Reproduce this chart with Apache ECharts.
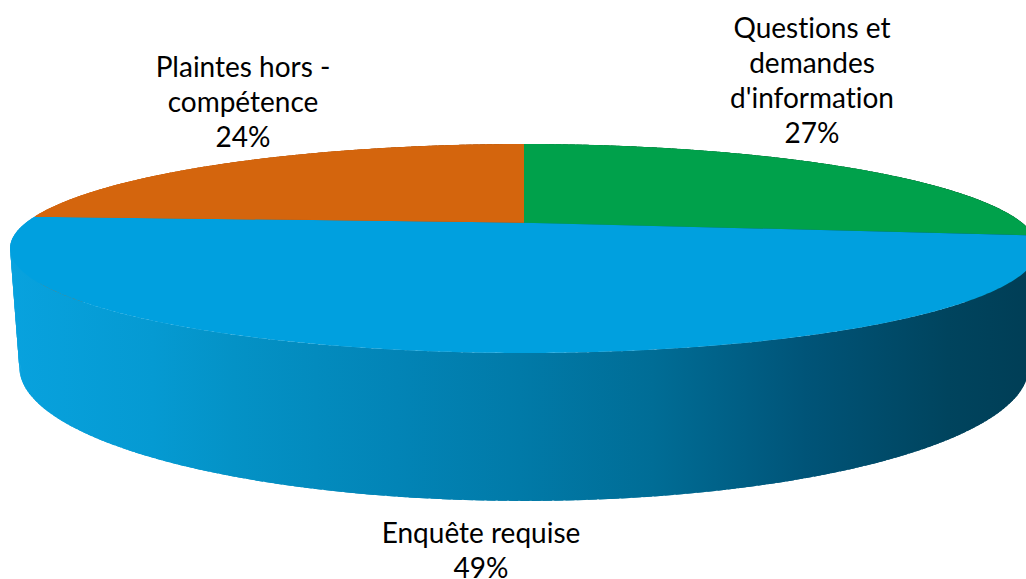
<!DOCTYPE html>
<html><head><meta charset="utf-8">
<script src="https://cdn.jsdelivr.net/npm/echarts@6/dist/echarts.min.js"></script>
<style>html,body{margin:0;padding:0;background:#fff;overflow:hidden}#c{width:1026px;height:579px}
#c text{font-variant-ligatures:none;font-feature-settings:"liga" 0,"clig" 0}</style>
</head><body><div id="c"></div>
<script>
// ---- data ----
const categories = ["Questions et\ndemandes\nd'information", "Enquête requise", "Plaintes hors -\ncompétence"];
const values = [27, 49, 24];
const topColors = ['#00A14B', '#00A0DF', '#D4650D'];

// ---- layout (3D perspective pie) ----
const CX = 524, CY = 222.7;   // pie centre on screen
const RA = 498, RB = 98.1;    // horizontal / vertical radii
const K = 0.247;              // perspective strength
const DEPTH = 111.4;          // thickness
const SHRINK = 0.982;         // bottom rim narrower (perspective)
const START = 90;             // start at top, clockwise
const labelLayout = [
  {x: 812, y: 149, va: 'bottom'},
  {x: 481, y: 514, va: 'top'},
  {x: 243, y: 153, va: 'bottom'}
];

function grad(stops) {
  return {type: 'linear', x: 10, y: 0, x2: 1030, y2: 0, global: true,
    colorStops: stops.map(s => ({offset: s[0], color: s[1]}))};
}
const sideFills = [
  grad([[0, '#00A14B'], [0.5, '#007A38'], [1, '#004A24']]),
  grad([[0, '#08A2DE'], [0.14, '#059AD2'], [0.22, '#0492C6'], [0.38, '#0284B6'], [0.5, '#017AA8'], [0.63, '#006D96'], [0.78, '#005478'], [0.92, '#00445E'], [1, '#003E56']]),
  grad([[0, '#D4650D'], [0.5, '#A24D0A'], [1, '#6E3406']])
];

function proj(deg, bottom) {
  const t = deg * Math.PI / 180;
  const X = Math.cos(t), Y = Math.sin(t);
  const w = 1 + K * Y;
  let sx = CX + RA * X / w;
  let sy = CY - RB * Y / w;
  if (bottom) { sx = CX + (sx - CX) * SHRINK; sy += DEPTH / w; }
  return [sx, sy];
}

const total = values.reduce((a, b) => a + b, 0);

function renderItem(params, api) {
  const i = params.dataIndex;
  const v = api.value(0);
  let cum = 0;
  for (let j = 0; j < i; j++) cum += values[j];
  const a1 = START - 360 * cum / total;
  const a2 = START - 360 * (cum + v) / total;
  const children = [];
  // side wall, built from small quads sorted by depth
  const step = 1;
  const n = Math.max(1, Math.ceil((a1 - a2) / step));
  const d = (a1 - a2) / n;
  for (let s = 0; s < n; s++) {
    const ta = a1 - s * d + (s > 0 ? 0.4 : 0);
    const tb = a1 - (s + 1) * d - (s < n - 1 ? 0.4 : 0);
    const mid = (ta + tb) / 2;
    const pts = [proj(ta, false), proj(tb, false), proj(tb, true), proj(ta, true)];
    children.push({
      type: 'polygon', shape: {points: pts},
      style: {fill: sideFills[i]},
      z2: Math.round(200 * (1 - Math.sin(mid * Math.PI / 180)))
    });
  }
  // top face
  const top = [[CX, CY]];
  const m = Math.max(2, Math.ceil((a1 - a2) / 0.5));
  for (let s = 0; s <= m; s++) top.push(proj(a1 - (a1 - a2) * s / m, false));
  children.push({type: 'polygon', shape: {points: top}, style: {fill: topColors[i]}, z2: 1000});
  // label
  const pct = Math.round(v / total * 100) + '%';
  const L = labelLayout[i];
  children.push({
    type: 'text', z2: 2000, x: L.x, y: L.y,
    style: {
      text: categories[i] + '\n' + pct,
      fill: '#000000', fontFamily: 'Lato', fontSize: 28, lineHeight: 35,
      align: 'center', verticalAlign: L.va
    }
  });
  return {type: 'group', children};
}

const chart = echarts.init(document.getElementById('c'), null, {renderer: 'svg'});
chart.setOption({
  animation: false,
  backgroundColor: '#ffffff',
  series: [{
    type: 'custom',
    coordinateSystem: 'none',
    silent: true,
    renderItem,
    data: values.map((v, i) => ({name: categories[i], value: [v]}))
  }]
});
</script>
</body></html>
